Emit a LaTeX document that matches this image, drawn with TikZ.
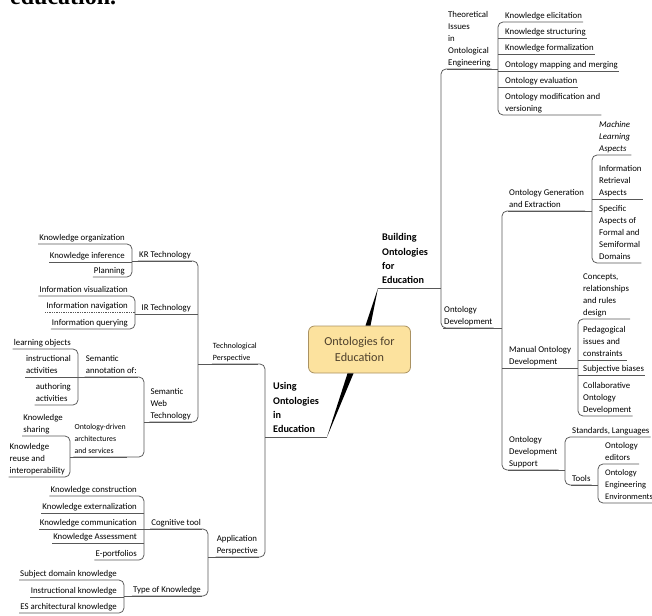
\documentclass[tikz,border=0pt]{standalone}
\usepackage{fontspec}
\setmainfont{Carlito}
\newfontfamily\fragfont{Liberation Serif}
\usepackage{xcolor}
\definecolor{linkGray}{RGB}{88,88,88}
\definecolor{hubFill}{RGB}{252,226,158}
\definecolor{hubLine}{RGB}{170,146,98}
\definecolor{hubText}{RGB}{78,64,44}
\tikzset{
  topic/.style={
    inner xsep=1pt,
    inner ysep=1.5pt,
    text depth=2pt,
    align=left,
    font=\fontsize{8.8}{12}\selectfont
  },
  rt/.style={topic, anchor=south west, xshift=6pt},
  lt/.style={topic, anchor=south east, xshift=-6pt},
  mainbranch/.style={
    inner xsep=0pt,
    inner ysep=2pt,
    text depth=2pt,
    anchor=south west,
    align=left,
    font=\fontsize{10.2}{14.4}\selectfont\bfseries
  },
  hub/.style={
    draw=hubLine,
    fill=hubFill,
    line width=0.8pt,
    rounded corners=6pt,
    minimum width=102pt,
    minimum height=47pt,
    align=center,
    text=hubText,
    font=\fontsize{12.2}{15.6}\selectfont
  },
  link/.style={draw=linkGray, line width=0.75pt, rounded corners=5pt},
  wedge/.style={fill=black}
}

\begin{document}
\begin{tikzpicture}[x=1pt,y=-1pt]
  \useasboundingbox (0,0) rectangle (652,615);
  \clip (0,0) rectangle (652,615);

  % cut line of the page text above
  \node[anchor=base west, inner sep=0pt, font=\fontsize{24}{24}\fragfont\bfseries] (frag) at (10,4.5) {education.};

  % bracket columns
  \coordinate (bUse) at (265,0);
  \coordinate (bBuild) at (441,0);
  \coordinate (bTheo) at (498,0);
  \coordinate (bDev) at (502,0);
  \coordinate (bGen) at (592,0);
  \coordinate (bMan) at (578,0);
  \coordinate (bSup) at (565,0);
  \coordinate (bTools) at (598,0);
  \coordinate (bTech) at (198,0);
  \coordinate (bKR) at (132,0);
  \coordinate (bIR) at (135,0);
  \coordinate (bSW) at (144,0);
  \coordinate (bAnn) at (78,0);
  \coordinate (bDrv) at (70,0);
  \coordinate (bAppl) at (208,0);
  \coordinate (bCog) at (144,0);
  \coordinate (bType) at (124,0);
  \coordinate (buildTip) at (378,288);
  \coordinate (useTip) at (327,437);

  % centre
  \node[hub] (hub) at (359.5,349.5) {Ontologies for\\Education};
  \fill[wedge] ([xshift=6pt]hub.north) -- ([xshift=11pt]hub.north) -- (buildTip) -- cycle;
  \fill[wedge] ([xshift=-12pt]hub.south) -- ([xshift=-6pt]hub.south) -- (useTip) -- cycle;

  \node[mainbranch] (build) at (382,288) {Building\\Ontologies\\for\\Education};
  \node[mainbranch] (use) at (273,437) {Using\\Ontologies\\in\\Education};

  % right side
  \node[rt] (theo) at (441,69) {Theoretical\\Issues\\in\\Ontological\\Engineering};
  \node[rt] (kelic) at (498,22) {Knowledge elicitation};
  \node[rt] (kstruc) at (498,38) {Knowledge structuring};
  \node[rt] (kform) at (498,54) {Knowledge formalization};
  \node[rt] (omap) at (498,71) {Ontology mapping and merging};
  \node[rt] (oeval) at (498,87) {Ontology evaluation};
  \node[rt] (omod) at (498,115) {Ontology modification and\\versioning};

  \node[rt, xshift=-4pt] (odev) at (441,328) {Ontology\\Development};
  \node[rt] (ogen) at (502,211) {Ontology Generation\\and Extraction};
  \node[rt] (oman) at (502,368) {Manual Ontology\\Development};
  \node[rt] (osup) at (502,470) {Ontology\\Development\\Support};

  \node[rt, font=\fontsize{8.8}{12}\selectfont\itshape] (mla) at (592,155) {Machine\\Learning\\Aspects};
  \node[rt] (ira) at (592,199) {Information\\Retrieval\\Aspects};
  \node[rt] (spec) at (592,263) {Specific\\Aspects of\\Formal and\\Semiformal\\Domains};

  \node[rt, xshift=-2pt] (conc) at (578,319) {Concepts,\\relationships\\and rules\\design};
  \node[rt, xshift=-2pt] (peda) at (578,360) {Pedagogical\\issues and\\constraints};
  \node[rt, xshift=-2pt] (subj) at (578,375) {Subjective biases};
  \node[rt, xshift=-2pt] (collab) at (578,416) {Collaborative\\Ontology\\Development};

  \node[rt] (stand) at (565,437) {Standards, Languages};
  \node[rt] (tools) at (565,485) {Tools};
  \node[rt] (oedit) at (598,464) {Ontology\\editors};
  \node[rt, font=\fontsize{8.5}{12}\selectfont] (oenv) at (598,503) {Ontology\\Engineering\\Environments};

  % left side
  \node[lt, xshift=-1pt, font=\fontsize{8}{12}\selectfont] (tech) at (265,364) {Technological\\Perspective};
  \node[lt] (kr) at (198,261) {KR Technology};
  \node[lt] (ir) at (198,314) {IR Technology};
  \node[lt] (sw) at (198,422) {Semantic\\Web\\Technology};
  \node[lt] (korg) at (132,244) {Knowledge organization};
  \node[lt] (kinf) at (132,262) {Knowledge inference};
  \node[lt] (plan) at (132,277) {Planning};
  \node[lt] (ivis) at (135,296) {Information visualization};
  \node[lt] (inav) at (135,312) {Information navigation};
  \node[lt] (iqry) at (135,329) {Information querying};
  \node[lt] (ann) at (144,377) {Semantic\\annotation of:};
  \node[lt, xshift=-11pt, font=\fontsize{7.8}{12}\selectfont] (drv) at (144,457) {Ontology-driven\\architectures\\and services};
  \node[lt] (lobj) at (78,349) {learning objects};
  \node[lt] (instr) at (78,377) {instructional\\activities};
  \node[lt] (auth) at (78,405) {authoring\\activities};
  \node[lt] (kshar) at (70,436) {Knowledge\\sharing};
  \node[lt, xshift=2pt] (kreuse) at (70,477) {Knowledge\\reuse and\\interoperability};

  \node[lt] (appl) at (265,557) {Application\\Perspective};
  \node[lt] (cog) at (208,529) {Cognitive tool};
  \node[lt] (ktype) at (208,596) {Type of Knowledge};
  \node[lt] (kcons) at (144,496) {Knowledge construction};
  \node[lt] (kext) at (144,513) {Knowledge externalization};
  \node[lt] (kcomm) at (144,529) {Knowledge communication};
  \node[lt] (kass) at (144,543) {Knowledge Assessment};
  \node[lt] (eport) at (144,560) {E-portfolios};
  \node[lt] (subjd) at (124,580) {Subject domain knowledge};
  \node[lt] (instk) at (124,597) {Instructional knowledge};
  \node[lt] (esarch) at (124,613) {ES architectural knowledge};

  % main branches
  \draw[link] (buildTip) -- (build.south -| bBuild);
  \draw[link] (useTip) -- (use.south -| bUse);

  % building ontologies
  \draw[link] (theo.south east) -- (theo.south -| bBuild) -- (odev.south -| bBuild) -- (odev.south east);
  \draw[link] (theo.south west) -- (theo.south -| bTheo);
  \draw[link] (kelic.south east) -- (kelic.south -| bTheo) -- (omod.south -| bTheo) -- (omod.south east);
  \foreach \n in {kstruc,kform,omap,oeval}
    \draw[link] (\n.south -| bTheo) -- (\n.south east);

  \draw[link] (odev.south west) -- (odev.south -| bDev);
  \draw[link] (ogen.south east) -- (ogen.south -| bDev) -- (osup.south -| bDev) -- (osup.south east);
  \draw[link] (oman.south -| bDev) -- (oman.south east);

  \draw[link] (ogen.south west) -- (ogen.south -| bGen);
  \draw[link] (mla.south east) -- (mla.south -| bGen) -- (spec.south -| bGen) -- (spec.south east);
  \draw[link] (ira.south -| bGen) -- (ira.south east);

  \draw[link] (oman.south west) -- (oman.south -| bMan);
  \draw[link] (conc.south east) -- (conc.south -| bMan) -- (collab.south -| bMan) -- (collab.south east);
  \foreach \n in {peda,subj}
    \draw[link] (\n.south -| bMan) -- (\n.south east);

  \draw[link] (osup.south west) -- (osup.south -| bSup);
  \draw[link] (stand.south east) -- (stand.south -| bSup) -- (tools.south -| bSup) -- (tools.south east);
  \draw[link] (tools.south west) -- (tools.south -| bTools);
  \draw[link] (oedit.south east) -- (oedit.south -| bTools) -- (oenv.south -| bTools) -- (oenv.south east);

  % using ontologies
  \draw[link] (tech.south west) -- (tech.south -| bUse) -- (appl.south -| bUse) -- (appl.south west);

  \draw[link] (tech.south east) -- (tech.south -| bTech);
  \draw[link] (kr.south west) -- (kr.south -| bTech) -- (sw.south -| bTech) -- (sw.south west);
  \draw[link] (ir.south -| bTech) -- (ir.south west);

  \draw[link] (kr.south east) -- (kr.south -| bKR);
  \draw[link] (korg.south west) -- (korg.south -| bKR) -- (plan.south -| bKR) -- (plan.south west);
  \draw[link] (kinf.south -| bKR) -- (kinf.south west);

  \draw[link] (ir.south east) -- (ir.south -| bIR);
  \draw[link] (ivis.south west) -- (ivis.south -| bIR) -- (iqry.south -| bIR) -- (iqry.south west);
  \draw[link, densely dotted] (inav.south -| bIR) -- (inav.south west);

  \draw[link] (sw.south east) -- (sw.south -| bSW);
  \draw[link] (ann.south west) -- (ann.south -| bSW) -- (drv.south -| bSW) -- (drv.south west);
  \draw[link] (ann.south east) -- (ann.south -| bAnn);
  \draw[link] (lobj.south west) -- (lobj.south -| bAnn) -- (auth.south -| bAnn) -- (auth.south west);
  \draw[link] (instr.south -| bAnn) -- (instr.south west);
  \draw[link] (drv.south east) -- (drv.south -| bDrv);
  \draw[link] (kshar.south west) -- (kshar.south -| bDrv) -- (kreuse.south -| bDrv) -- (kreuse.south west);

  \draw[link] (appl.south east) -- (appl.south -| bAppl);
  \draw[link] (cog.south west) -- (cog.south -| bAppl) -- (ktype.south -| bAppl) -- (ktype.south west);
  \draw[link] (cog.south east) -- (cog.south -| bCog);
  \draw[link] (kcons.south west) -- (kcons.south -| bCog) -- (eport.south -| bCog) -- (eport.south west);
  \foreach \n in {kext,kcomm,kass}
    \draw[link] (\n.south -| bCog) -- (\n.south west);
  \draw[link] (ktype.south east) -- (ktype.south -| bType);
  \draw[link] (subjd.south west) -- (subjd.south -| bType) -- (esarch.south -| bType) -- (esarch.south west);
  \draw[link] (instk.south -| bType) -- (instk.south west);
\end{tikzpicture}
\end{document}
